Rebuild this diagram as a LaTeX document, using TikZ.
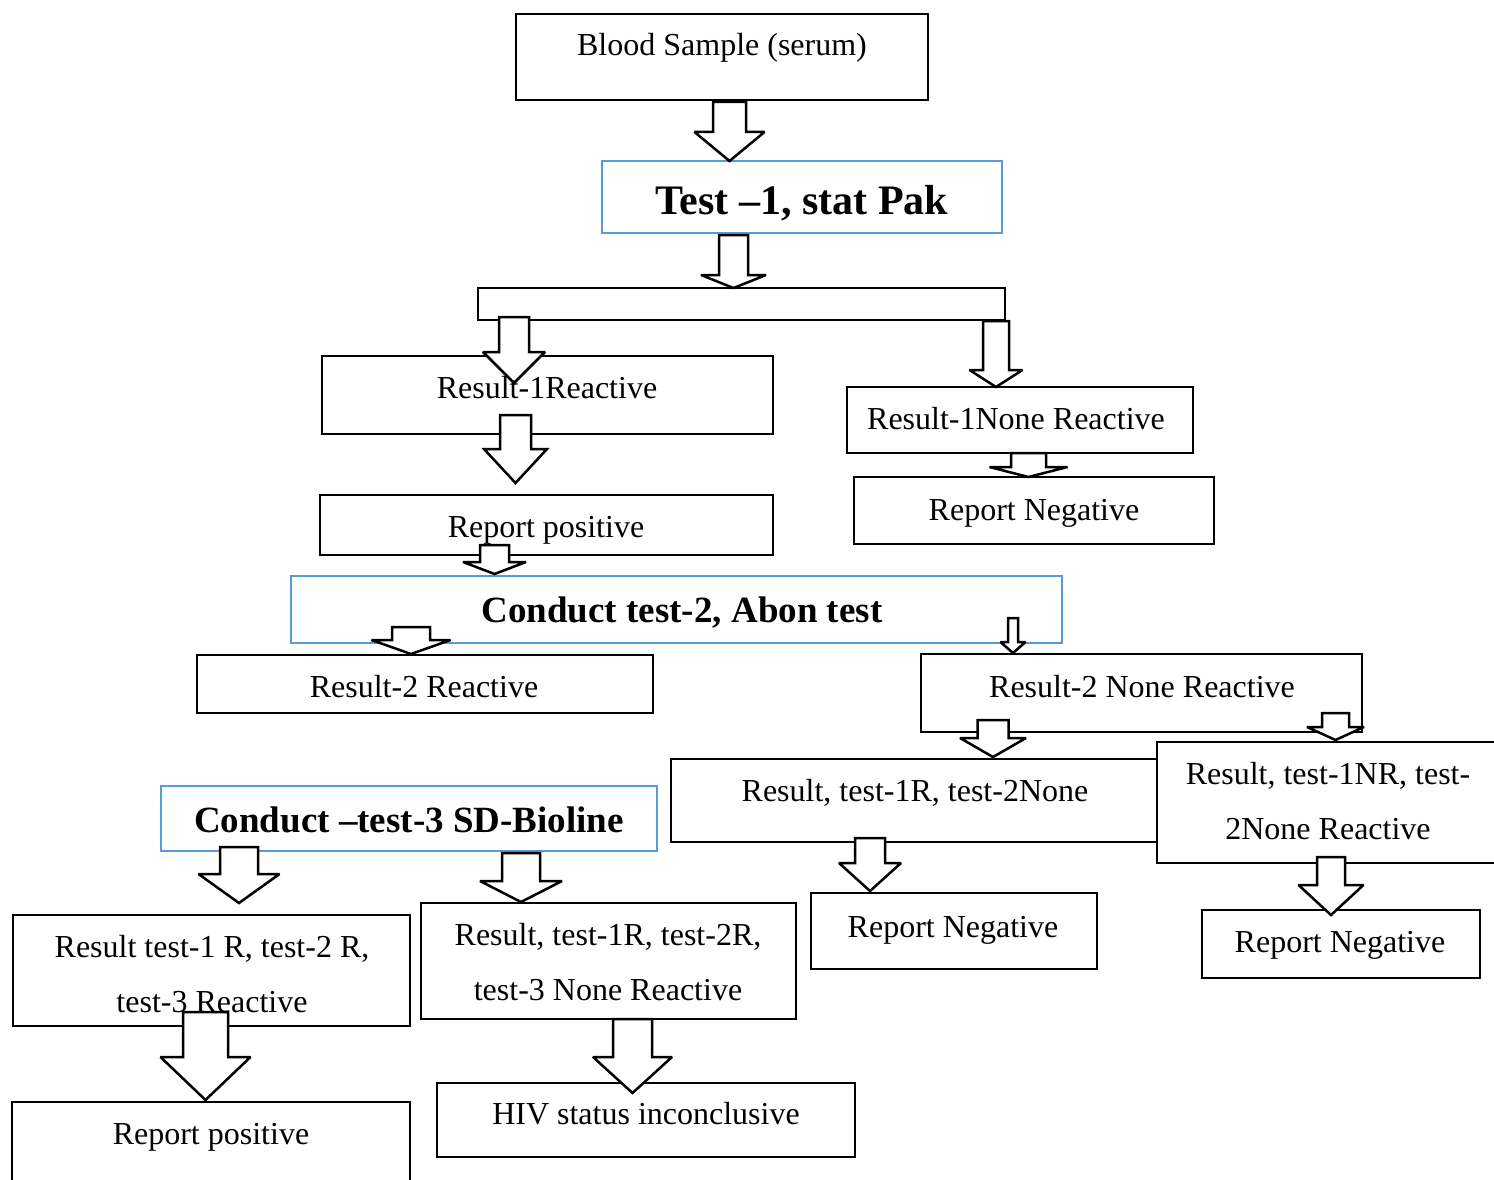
\documentclass[tikz,border=0pt]{standalone}
\usepackage{fontspec}
\setmainfont{Liberation Serif}
\definecolor{boxblue}{RGB}{91,155,213}
\newcommand\bkarrow[6]{%
  \draw[barrow] ({#1-#5},#2) -- ({#1+#5},#2) -- ({#1+#5},#3) -- ({#1+#6},#3) -- (#1,#4) -- ({#1-#6},#3) -- ({#1-#5},#3) -- cycle;}
\newcommand\bx[6]{%
  \node[#6, anchor=north west, minimum width={(#4-#2)*1pt}, minimum height={(#5-#3)*1pt}] (#1) at (#2,#3) {};}
\begin{document}
\begin{tikzpicture}[x=1pt,y=-1pt,
  bbox/.style={draw=black, line width=2.5pt, fill=white, inner sep=0pt, outer sep=0pt},
  bluebox/.style={draw=boxblue, line width=2pt, fill=white, inner sep=0pt, outer sep=0pt},
  barrow/.style={draw=black, line width=2.5pt, fill=white, line join=miter, miter limit=2.5},
  txt/.style={anchor=base, inner sep=0pt, font=\fontsize{32}{38}\selectfont},
  btxt/.style={anchor=base, inner sep=0pt, font=\fontsize{37}{44}\selectfont\bfseries}]
\useasboundingbox (0,0) rectangle (1494,1180);
\clip (0,0) rectangle (1494,1180);
% boxes
\bx{b1}{516}{14}{928}{100}{bbox}
\bx{b2}{602}{161}{1002}{233}{bluebox}
\bx{bar}{478}{288}{1005}{320}{bbox}
\bx{b3}{322}{356}{773}{434}{bbox}
\bx{b4}{847}{387}{1193}{453}{bbox}
\bx{b5}{320}{495}{773}{555}{bbox}
\bx{b6}{854}{477}{1214}{544}{bbox}
\bx{b7}{291}{576}{1062}{643}{bluebox}
\bx{b8}{197}{655}{653}{713}{bbox}
\bx{b9}{921}{654}{1362}{732}{bbox}
\bx{b10}{161}{786}{657}{851}{bluebox}
\bx{b11}{671}{759}{1158}{842}{bbox}
\bx{b12}{1157}{742}{1510}{863}{bbox}
\bx{b13}{811}{893}{1097}{969}{bbox}
\bx{b14}{1202}{910}{1480}{978}{bbox}
\bx{b15}{13}{915}{410}{1026}{bbox}
\bx{b16}{421}{903}{796}{1019}{bbox}
\bx{b17}{12}{1102}{410}{1195}{bbox}
\bx{b18}{437}{1083}{855}{1157}{bbox}
% block arrows
\bkarrow{729.5}{102}{132}{161}{16.5}{35}
\bkarrow{733.5}{235}{275}{288}{14.5}{32.5}
\bkarrow{514}{317}{352}{383}{15}{31}
\bkarrow{996}{321}{370}{387}{13}{26.5}
\bkarrow{515.5}{415}{449}{483}{15.5}{31.5}
\bkarrow{1028.5}{453}{467}{477}{17.5}{39}
\bkarrow{494.5}{545}{562}{574}{14.5}{31.5}
\bkarrow{411}{627}{640}{654}{19}{39.5}
\bkarrow{1013}{618}{642}{653}{5}{12.5}
\bkarrow{239}{847}{874}{903}{19}{40.5}
\bkarrow{521}{853}{881}{902}{19}{41}
\bkarrow{993}{720}{738}{757}{15.5}{33}
\bkarrow{1335.5}{713}{727}{740}{13.5}{28.5}
\bkarrow{870}{838}{863}{891}{15}{31}
\bkarrow{1331}{857}{885}{915}{14}{32.5}
\bkarrow{205.5}{1012}{1057}{1100}{22.5}{45}
\bkarrow{632.5}{1019}{1057}{1093}{19.5}{39.5}
% texts
\node[txt] (t1) at (722,56) {Blood Sample (serum)};
\node[btxt, font=\fontsize{42}{50}\selectfont\bfseries] (t2) at (802,214) {Test –1, stat Pak};
\node[txt] (t3) at (547,398) {Result-1Reactive};
\node[txt] (t4) at (1016,429) {Result-1None Reactive};
\node[txt] (t5) at (546,537) {Report positive};
\node[txt] (t6) at (1034,520) {Report Negative};
\node[btxt] (t7) at (682,622) {Conduct test-2, Abon test};
\node[txt] (t8) at (424,697) {Result-2 Reactive};
\node[txt] (t9) at (1142,697) {Result-2 None Reactive};
\node[btxt] (t10) at (409,832) {Conduct –test-3 SD-Bioline};
\node[txt] (t11) at (915,801) {Result, test-1R, test-2None};
\node[txt] (t12a) at (1328,784) {Result, test-1NR, test-};
\node[txt] (t12b) at (1328,839) {2None Reactive};
\node[txt] (t13) at (953,937) {Report Negative};
\node[txt] (t14) at (1340,952) {Report Negative};
\node[txt] (t15a) at (212,957) {Result test-1 R, test-2 R,};
\node[txt] (t15b) at (212,1012) {test-3 Reactive};
\node[txt] (t16a) at (608,945) {Result, test-1R, test-2R,};
\node[txt] (t16b) at (608,1000) {test-3 None Reactive};
\node[txt] (t17) at (211,1144) {Report positive};
\node[txt] (t18) at (646,1124) {HIV status inconclusive};
\end{tikzpicture}
\end{document}
